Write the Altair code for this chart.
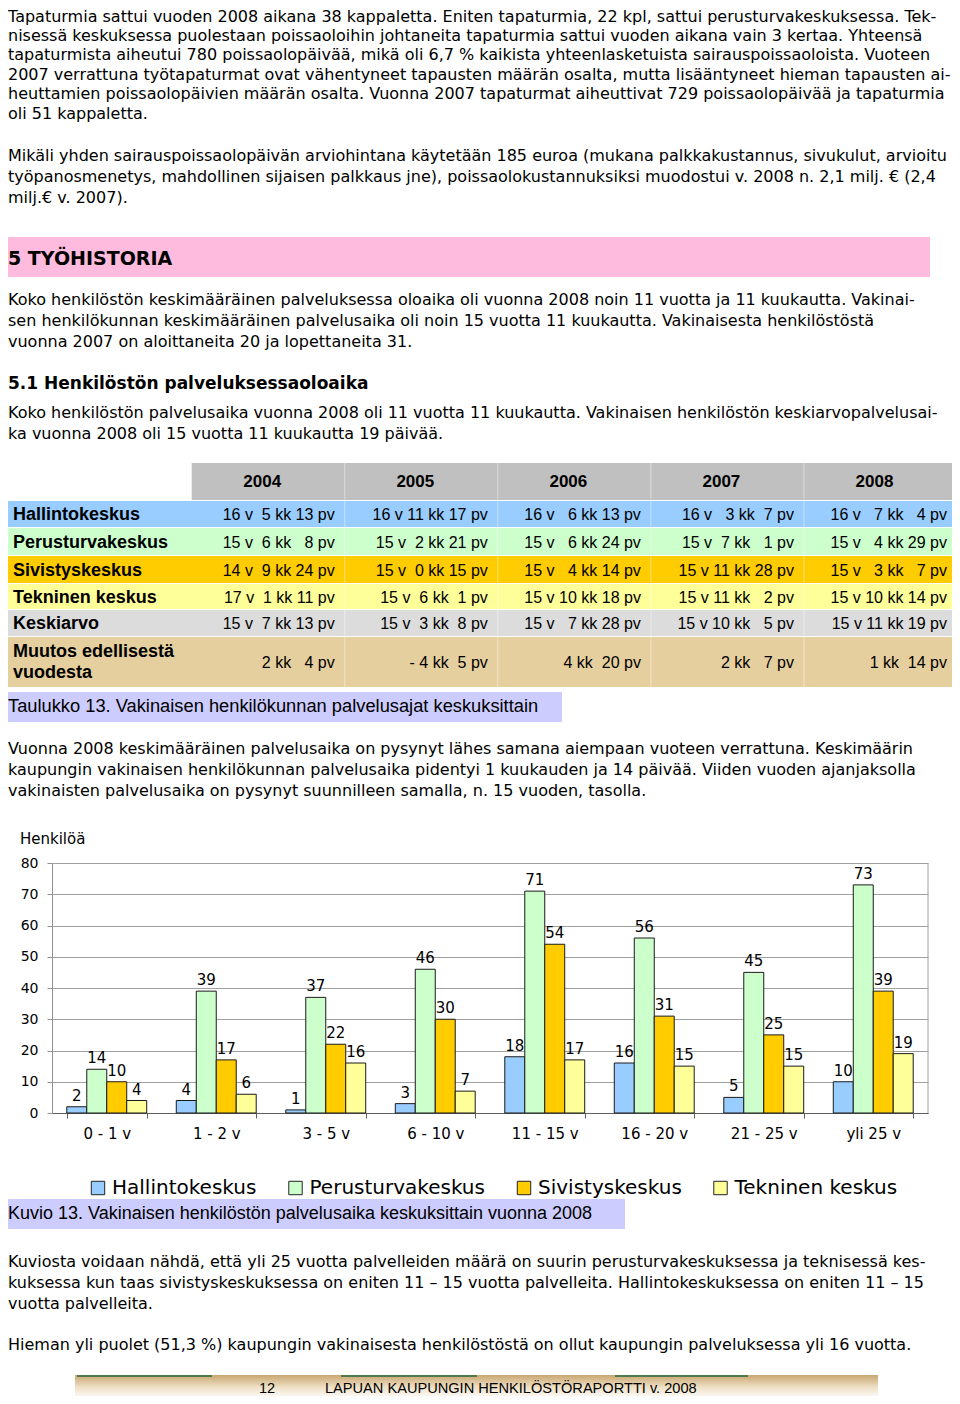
import altair as alt
import pandas as pd

BODY = "DejaVu Sans"
TAB = "Liberation Sans"

# ---------------- text content ----------------
para1 = [
    "Tapaturmia sattui vuoden 2008 aikana 38 kappaletta. Eniten tapaturmia, 22 kpl, sattui perusturvakeskuksessa. Tek-",
    "nisessä keskuksessa puolestaan poissaoloihin johtaneita tapaturmia sattui vuoden aikana vain 3 kertaa. Yhteensä",
    "tapaturmista aiheutui 780 poissaolopäivää, mikä oli 6,7 % kaikista yhteenlasketuista sairauspoissaoloista. Vuoteen",
    "2007 verrattuna työtapaturmat ovat vähentyneet tapausten määrän osalta, mutta lisääntyneet hieman tapausten ai-",
    "heuttamien poissaolopäivien määrän osalta. Vuonna 2007 tapaturmat aiheuttivat 729 poissaolopäivää ja tapaturmia",
    "oli 51 kappaletta.",
]
para2 = [
    "Mikäli yhden sairauspoissaolopäivän arviohintana käytetään 185 euroa (mukana palkkakustannus, sivukulut, arvioitu",
    "työpanosmenetys, mahdollinen sijaisen palkkaus jne), poissaolokustannuksiksi muodostui v. 2008 n. 2,1 milj. € (2,4",
    "milj.€ v. 2007).",
]
heading1 = "5 TYÖHISTORIA"
para3 = [
    "Koko henkilöstön keskimääräinen palveluksessa oloaika oli vuonna 2008 noin 11 vuotta ja 11 kuukautta. Vakinai-",
    "sen henkilökunnan keskimääräinen palvelusaika oli noin 15 vuotta 11 kuukautta. Vakinaisesta henkilöstöstä",
    "vuonna 2007 on aloittaneita 20  ja lopettaneita 31.",
]
heading2 = "5.1 Henkilöstön palveluksessaoloaika"
para4 = [
    "Koko henkilöstön palvelusaika vuonna 2008 oli 11 vuotta 11 kuukautta. Vakinaisen henkilöstön keskiarvopalvelusai-",
    "ka vuonna 2008 oli 15 vuotta 11 kuukautta 19 päivää.",
]
table_caption = "Taulukko 13. Vakinaisen henkilökunnan palvelusajat keskuksittain"
para5 = [
    "Vuonna 2008 keskimääräinen palvelusaika on pysynyt lähes samana aiempaan vuoteen verrattuna. Keskimäärin",
    "kaupungin vakinaisen henkilökunnan palvelusaika pidentyi 1 kuukauden ja 14 päivää. Viiden vuoden ajanjaksolla",
    "vakinaisten palvelusaika on pysynyt suunnilleen samalla, n. 15 vuoden, tasolla.",
]
figure_caption = "Kuvio 13. Vakinaisen henkilöstön palvelusaika keskuksittain vuonna 2008"
para6 = [
    "Kuviosta voidaan nähdä, että yli 25 vuotta palvelleiden määrä on suurin perusturvakeskuksessa ja teknisessä kes-",
    "kuksessa kun taas sivistyskeskuksessa on eniten 11 – 15 vuotta palvelleita. Hallintokeskuksessa on eniten 11 – 15",
    "vuotta palvelleita.",
]
para7 = ["Hieman yli puolet (51,3 %) kaupungin vakinaisesta henkilöstöstä on ollut kaupungin palveluksessa yli 16 vuotta."]
footer_page = "12"
footer_text = "LAPUAN KAUPUNGIN HENKILÖSTÖRAPORTTI v. 2008"

# ---------------- table data ----------------
table_years = ["2004", "2005", "2006", "2007", "2008"]
row_names = ["Hallintokeskus", "Perusturvakeskus", "Sivistyskeskus", "Tekninen keskus",
             "Keskiarvo", "Muutos edellisestä\nvuodesta"]
row_hallinto = ["16 v  5 kk 13 pv", "16 v 11 kk 17 pv", "16 v   6 kk 13 pv", "16 v   3 kk  7 pv", "16 v   7 kk   4 pv"]
row_perus = ["15 v  6 kk   8 pv", "15 v  2 kk 21 pv", "15 v   6 kk 24 pv", "15 v  7 kk   1 pv", "15 v   4 kk 29 pv"]
row_sivis = ["14 v  9 kk 24 pv", "15 v  0 kk 15 pv", "15 v   4 kk 14 pv", "15 v 11 kk 28 pv", "15 v   3 kk   7 pv"]
row_tekn = ["17 v  1 kk 11 pv", "15 v  6 kk  1 pv", "15 v 10 kk 18 pv", "15 v 11 kk   2 pv", "15 v 10 kk 14 pv"]
row_keski = ["15 v  7 kk 13 pv", "15 v  3 kk  8 pv", "15 v   7 kk 28 pv", "15 v 10 kk   5 pv", "15 v 11 kk 19 pv"]
row_muutos = ["2 kk   4 pv", "- 4 kk  5 pv", "4 kk  20 pv", "2 kk   7 pv", "1 kk  14 pv"]
table_rows = [row_hallinto, row_perus, row_sivis, row_tekn, row_keski, row_muutos]
row_colors = ["#99CCFF", "#CCFFCC", "#FFCC00", "#FFFF99", "#DCDCDC", "#E6CF9E"]

# ---------------- chart data ----------------
groups = ["0 - 1 v", "1 - 2 v", "3 - 5 v", "6 - 10 v", "11 - 15 v", "16 - 20 v", "21 - 25 v", "yli 25 v"]
centres = ["Hallintokeskus", "Perusturvakeskus", "Sivistyskeskus", "Tekninen keskus"]
hallinto = [2, 4, 1, 3, 18, 16, 5, 10]
perusturva = [14, 39, 37, 46, 71, 56, 45, 73]
sivistys = [10, 17, 22, 30, 54, 31, 25, 39]
tekninen = [4, 6, 16, 7, 17, 15, 15, 19]
centre_colors = ["#99CCFF", "#CCFFCC", "#FFCC00", "#FFFF99"]
y_ticks = [0, 10, 20, 30, 40, 50, 60, 70, 80]

# ---------------- helpers ----------------
def P(v):
    """page pixel -> chart pixel (page has 8px margin)"""
    return v - 8

one = pd.DataFrame({"a": [0]})

def text_block(lines, x, y_base, size, font=BODY, weight="normal", lh=21, color="black"):
    df = pd.DataFrame({"t": ["\n".join(lines)]})
    return alt.Chart(df).mark_text(
        align="left", baseline="alphabetic", lineBreak="\n", lineHeight=lh,
        font=font, fontSize=size, fontWeight=weight, color=color
    ).encode(text="t:N", x=alt.value(x), y=alt.value(y_base))

def box(x1, x2, y1, y2, color):
    return alt.Chart(one).mark_rect(color=color).encode(
        x=alt.value(x1), x2=alt.value(x2), y=alt.value(y1), y2=alt.value(y2))

nb = lambda s: s.replace(" ", "\u00a0")

layers = []

# ---------------- body text ----------------
layers.append(text_block(para1, P(8), P(21.5), 16, lh=19.4))
layers.append(text_block(para2, P(8), P(161), 16))
layers.append(box(P(2), P(930), P(237), P(277), "#FFBBDD"))
layers.append(text_block([heading1], P(8), P(265), 19, weight="bold"))
layers.append(text_block(para3, P(8), P(305), 16))
layers.append(text_block([heading2], P(8), P(389), 17, weight="bold"))
layers.append(text_block(para4, P(8), P(418), 16))

# ---------------- table ----------------
xs = alt.Scale(domain=table_years, range=[P(191.7), P(957)], paddingInner=0, paddingOuter=0)
row_bounds = [(501, 527), (528, 555), (556, 583), (584, 609), (610, 636), (637, 687)]
table_layers = [box(P(191.7), P(957), P(463), P(500), "#C0C0C0")]
year_df = pd.DataFrame({"year": table_years})
table_layers.append(
    alt.Chart(year_df).mark_text(font=TAB, fontSize=17, fontWeight="bold", baseline="middle", dx=-6, color="black")
    .encode(x=alt.X("year:N", scale=xs, axis=None, bandPosition=0.5), text="year:N", y=alt.value(P(482)))
)
for i, (name, vals, col, (t, b)) in enumerate(zip(row_names, table_rows, row_colors, row_bounds)):
    table_layers.append(box(P(6), P(957), P(t), P(b), col))
    if "\n" in name:
        table_layers.append(text_block(name.split("\n"), P(13), P(657), 18, font=TAB, weight="bold", lh=21))
    else:
        table_layers.append(
            alt.Chart(pd.DataFrame({"t": [name]})).mark_text(
                align="left", baseline="middle", font=TAB, fontSize=18, fontWeight="bold", color="black")
            .encode(text="t:N", x=alt.value(P(13)), y=alt.value(P((t + b) / 2 + 1)))
        )
    cell_df = pd.DataFrame({"year": table_years, "v": [nb(v) for v in vals]})
    table_layers.append(
        alt.Chart(cell_df).mark_text(align="right", baseline="middle", dx=-10, font=TAB, fontSize=16, color="black")
        .encode(x=alt.X("year:N", scale=xs, axis=None, bandPosition=1), text="v:N",
                y=alt.value(P((t + b) / 2 + 1)))
    )
sep_df = pd.DataFrame({"year": table_years[1:]})
table_layers.append(
    alt.Chart(sep_df).mark_rule(color="white", opacity=0.45, strokeWidth=1)
    .encode(x=alt.X("year:N", scale=xs, axis=None, bandPosition=0), y=alt.value(P(463)), y2=alt.value(P(687)))
)
layers.append(alt.layer(*table_layers))

layers.append(box(P(5), P(562), P(692), P(722), "#CCCCFF"))
layers.append(
    alt.Chart(pd.DataFrame({"t": [table_caption]})).mark_text(
        align="left", baseline="middle", font=TAB, fontSize=18.3, color="black")
    .encode(text="t:N", x=alt.value(P(8)), y=alt.value(P(707)))
)
layers.append(text_block(para5, P(8), P(754), 16))

# ---------------- bar chart ----------------
rows = []
for c, vals in zip(centres, [hallinto, perusturva, sivistys, tekninen]):
    for g, v in zip(groups, vals):
        rows.append({"group": g, "centre": c, "value": v})
bar_df = pd.DataFrame(rows)

x_plot = [P(52), P(928)]
y_plot = [P(1113), P(863)]

base = alt.Chart(bar_df).encode(
    x=alt.X("group:N", sort=groups,
            scale=alt.Scale(domain=groups, range=x_plot, paddingInner=0.27, paddingOuter=0.135),
            axis=alt.Axis(orient="bottom", offset=-(1388 - P(1113)), title=None, labelAngle=0,
                          tickBand="extent", tickSize=5, labelPadding=8, labelFont=BODY,
                          labelFontSize=15, labelColor="black", domainColor="#606060",
                          tickColor="#606060", grid=False)),
    xOffset=alt.XOffset("centre:N", sort=centres,
                        scale=alt.Scale(domain=centres, paddingInner=0, paddingOuter=0)),
    y=alt.Y("value:Q",
            scale=alt.Scale(domain=[0, 80], range=y_plot, nice=False, zero=True),
            axis=alt.Axis(orient="left", offset=-P(52), title=None, values=y_ticks, grid=True,
                          gridColor="#A0A0A0", domainColor="#909090", tickColor="#909090",
                          tickSize=5, labelPadding=9, labelFont=BODY, labelFontSize=14,
                          labelColor="black")),
)
bars = base.mark_bar(stroke="#1A1A1A", strokeWidth=1).encode(
    color=alt.Color("centre:N", sort=centres,
                    scale=alt.Scale(domain=centres, range=centre_colors),
                    legend=alt.Legend(orient="none", legendX=P(88), legendY=P(1178),
                                      direction="horizontal", columns=4, title=None,
                                      symbolType="square", symbolSize=180,
                                      symbolStrokeColor="#222222", symbolStrokeWidth=1,
                                      labelFont=BODY, labelFontSize=20, labelColor="black",
                                      labelOffset=4, columnPadding=28.5, padding=0,
                                      labelLimit=400, symbolOpacity=1))
)
bar_labels = base.mark_text(baseline="bottom", dy=-3, font=BODY, fontSize=15, color="black").encode(
    text="value:Q")
layers.append(alt.layer(bars, bar_labels))

layers.append(
    alt.Chart(one).mark_rule(color="#A0A0A0").encode(
        x=alt.value(P(928)), y=alt.value(P(863)), y2=alt.value(P(1113)))
)
layers.append(text_block(["Henkilöä"], P(20), P(844), 15))

# ---------------- lower text ----------------
layers.append(box(P(2), P(625), P(1199), P(1229), "#CCCCFF"))
layers.append(
    alt.Chart(pd.DataFrame({"t": [figure_caption]})).mark_text(
        align="left", baseline="middle", font=TAB, fontSize=18, color="black")
    .encode(text="t:N", x=alt.value(P(8)), y=alt.value(P(1214)))
)
layers.append(text_block(para6, P(8), P(1267), 16))
layers.append(text_block(para7, P(8), P(1350), 16))

# ---------------- footer ----------------
grad = alt.LinearGradient(gradient="linear",
                          stops=[alt.GradientStop(color="#C9A670", offset=0),
                                 alt.GradientStop(color="#EEDFC4", offset=0.5),
                                 alt.GradientStop(color="#FFFFFF", offset=1)],
                          x1=0, x2=0, y1=0, y2=1)
layers.append(alt.Chart(one).mark_rect(color=grad).encode(
    x=alt.value(P(75)), x2=alt.value(P(878)), y=alt.value(P(1375)), y2=alt.value(P(1399))))
for a, b in [(77, 212), (341, 477), (615, 748)]:
    layers.append(box(P(a), P(b), P(1375), P(1377), "#4E7A4E"))
layers.append(
    alt.Chart(pd.DataFrame({"t": [footer_page]})).mark_text(
        align="left", baseline="middle", font=TAB, fontSize=14.5, color="black")
    .encode(text="t:N", x=alt.value(P(259)), y=alt.value(P(1389)))
)
layers.append(
    alt.Chart(pd.DataFrame({"t": [footer_text]})).mark_text(
        align="left", baseline="middle", font=TAB, fontSize=14.6, color="black")
    .encode(text="t:N", x=alt.value(P(325)), y=alt.value(P(1389)))
)

chart = alt.layer(*layers).resolve_scale(
    x="independent", y="independent", color="independent"
).properties(
    width=944, height=1388, padding=0, background="white",
    autosize=alt.AutoSizeParams(type="none"),
).configure_view(stroke=None)

chart.save("out.html", embed_options={"renderer": "svg", "actions": False})
